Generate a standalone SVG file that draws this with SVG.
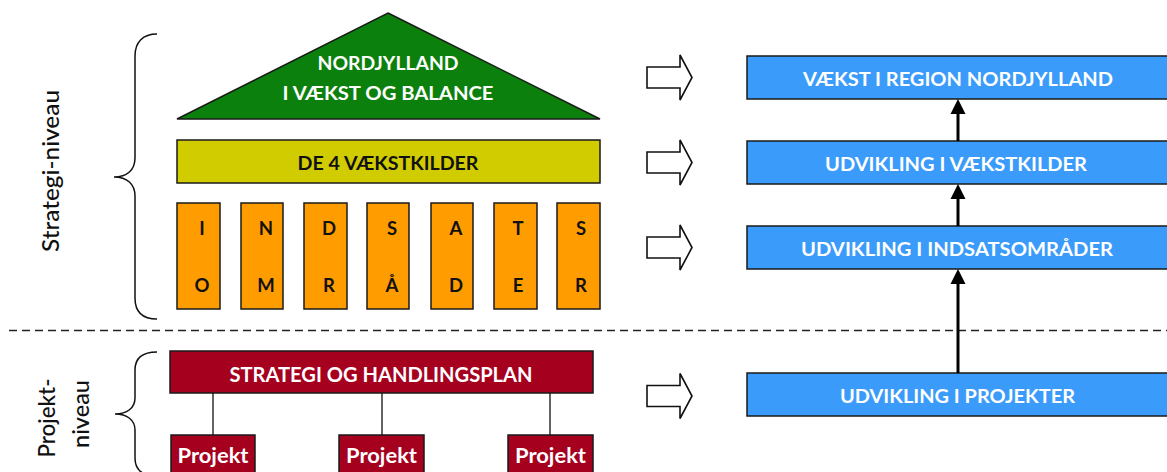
<svg xmlns="http://www.w3.org/2000/svg" width="1167" height="472" viewBox="0 0 1167 472">
<style>
  .bx{stroke:#1a1a1a;stroke-width:1.5}
  .t{font-family:Lato,"Open Sans","Liberation Sans",sans-serif;font-weight:bold;text-anchor:middle}
  .w{fill:#ffffff}
  .k{fill:#111111}
  .side{font-family:Lato,"Open Sans","Liberation Sans",sans-serif;font-size:23px;font-weight:500;fill:#111;text-anchor:middle}
  .brace{fill:none;stroke:#111;stroke-width:1.5}
  .hol{fill:#ffffff;stroke:#111;stroke-width:1.6;stroke-linejoin:miter}
  .vl{stroke:#000;stroke-width:3;fill:none}
  .thin{stroke:#111;stroke-width:1.3;fill:none}
  .blue{fill:#3A9BFA}
  .red{fill:#A6001F}
  .org{fill:#FF9C00}
  .lt{font-size:18.5px}
</style>
<defs>
  <polygon id="hollow" points="0,-10.5 33,-10.5 33,-22.5 45,0 33,22.5 33,10.5 0,10.5"/>
  <polygon id="head" points="0,0 -7.5,15 7.5,15"/>
</defs>
<rect width="1167" height="472" fill="#ffffff"/>

<!-- side labels and braces -->
<text class="side" transform="translate(59,171) rotate(-90)" textLength="162" lengthAdjust="spacingAndGlyphs">Strategi-niveau</text>
<text class="side" transform="translate(55,418) rotate(-90)" textLength="79" lengthAdjust="spacingAndGlyphs">Projekt-</text>
<text class="side" transform="translate(89,414) rotate(-90)" textLength="68" lengthAdjust="spacingAndGlyphs">niveau</text>
<path class="brace" d="M157,34 C143,34 135,42 135,56 L135,158 C135,170 127,177 114,177 C127,177 135,184 135,196 L135,298 C135,312 143,319 157,319"/>
<path class="brace" d="M157,352 C143,352 135,358 135,370 L135,398 C135,408 127,414 115,414 C127,414 135,420 135,430 L135,458 C135,470 143,476 157,476"/>
<line x1="9" y1="330.5" x2="1167" y2="330.5" stroke="#222" stroke-width="1.5" stroke-dasharray="8,5"/>

<!-- left house -->
<g id="roof">
  <polygon class="bx" fill="#0C800C" points="388,13 600,119 177,119"/>
  <text class="t w" x="388" y="70" font-size="19" textLength="141" lengthAdjust="spacingAndGlyphs">NORDJYLLAND</text>
  <text class="t w" x="388" y="100" font-size="19" textLength="211" lengthAdjust="spacingAndGlyphs">I VÆKST OG BALANCE</text>
</g>
<g id="vaekstkilder">
  <rect class="bx" fill="#D1CC00" x="177" y="140" width="423" height="43"/>
  <text class="t k" x="388" y="170" font-size="19.5" textLength="181" lengthAdjust="spacingAndGlyphs">DE 4 VÆKSTKILDER</text>
</g>
<g id="col1"><rect class="bx org" x="177" y="203" width="43" height="106"/><text class="t k lt" x="202" y="235">I</text><text class="t k lt" x="202" y="292">O</text></g>
<g id="col2"><rect class="bx org" x="241" y="203" width="42" height="106"/><text class="t k lt" x="266" y="235">N</text><text class="t k lt" x="266" y="292">M</text></g>
<g id="col3"><rect class="bx org" x="304" y="203" width="43" height="106"/><text class="t k lt" x="329" y="235">D</text><text class="t k lt" x="329" y="292">R</text></g>
<g id="col4"><rect class="bx org" x="367" y="203" width="42" height="106"/><text class="t k lt" x="392" y="235">S</text><text class="t k lt" x="392" y="292">Å</text></g>
<g id="col5"><rect class="bx org" x="431" y="203" width="42" height="106"/><text class="t k lt" x="456" y="235">A</text><text class="t k lt" x="456" y="292">D</text></g>
<g id="col6"><rect class="bx org" x="494" y="203" width="43" height="106"/><text class="t k lt" x="518" y="235">T</text><text class="t k lt" x="518" y="292">E</text></g>
<g id="col7"><rect class="bx org" x="557" y="203" width="43" height="106"/><text class="t k lt" x="581" y="235">S</text><text class="t k lt" x="581" y="292">R</text></g>

<g id="strategi">
  <rect class="bx red" x="170" y="351" width="423" height="42"/>
  <text class="t w" x="381" y="382" font-size="20.5" textLength="303" lengthAdjust="spacingAndGlyphs">STRATEGI OG HANDLINGSPLAN</text>
</g>
<g id="projekt1"><rect class="bx red" x="171" y="435" width="84" height="45"/><text class="t w" x="213" y="463" font-size="20.5" textLength="71" lengthAdjust="spacingAndGlyphs">Projekt</text></g>
<g id="projekt2"><rect class="bx red" x="339" y="435" width="85" height="45"/><text class="t w" x="381.5" y="463" font-size="20.5" textLength="71" lengthAdjust="spacingAndGlyphs">Projekt</text></g>
<g id="projekt3"><rect class="bx red" x="508" y="435" width="85" height="45"/><text class="t w" x="550.5" y="463" font-size="20.5" textLength="71" lengthAdjust="spacingAndGlyphs">Projekt</text></g>

<!-- right column -->
<g id="vaekst-region">
  <rect class="bx blue" x="747" y="56" width="426" height="43"/>
  <text class="t w" x="958" y="85.5" font-size="19.5" textLength="310" lengthAdjust="spacingAndGlyphs">VÆKST I REGION NORDJYLLAND</text>
</g>
<g id="udv-vaekstkilder">
  <rect class="bx blue" x="747" y="141" width="426" height="43"/>
  <text class="t w" x="956" y="170.5" font-size="19.5" textLength="262" lengthAdjust="spacingAndGlyphs">UDVIKLING I VÆKSTKILDER</text>
</g>
<g id="udv-indsats">
  <rect class="bx blue" x="747" y="226" width="426" height="43"/>
  <text class="t w" x="957" y="255.5" font-size="19.5" textLength="312" lengthAdjust="spacingAndGlyphs">UDVIKLING I INDSATSOMRÅDER</text>
</g>
<g id="udv-projekter">
  <rect class="bx blue" x="747" y="373" width="426" height="43"/>
  <text class="t w" x="957.5" y="402.5" font-size="19.5" textLength="235" lengthAdjust="spacingAndGlyphs">UDVIKLING I PROJEKTER</text>
</g>

<g id="connectors">
  <line class="thin" x1="213" y1="393" x2="213" y2="435"/>
  <line class="thin" x1="382" y1="393" x2="382" y2="435"/>
  <line class="thin" x1="550" y1="393" x2="550" y2="435"/>
  <line class="vl" x1="958" y1="141" x2="958" y2="112"/>
  <use href="#head" x="958" y="99"/>
  <line class="vl" x1="958" y1="226" x2="958" y2="197"/>
  <use href="#head" x="958" y="184"/>
  <line class="vl" x1="958" y1="373" x2="958" y2="282"/>
  <use href="#head" x="958" y="269"/>
  <use href="#hollow" class="hol" x="647" y="77.5"/>
  <use href="#hollow" class="hol" x="647" y="162.5"/>
  <use href="#hollow" class="hol" x="647" y="247.5"/>
  <use href="#hollow" class="hol" x="647" y="396"/>
</g>
</svg>
